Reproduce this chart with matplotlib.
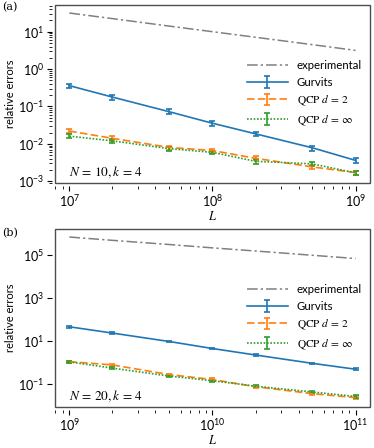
import numpy as np
import matplotlib
matplotlib.use('Agg')
import matplotlib.pyplot as plt

plt.rcParams['font.family'] = ['Lato', 'DejaVu Sans']
plt.rcParams['mathtext.fontset'] = 'stix'
plt.rcParams['font.size'] = 8

# panel (a): N=10, k=4
L_a = [1e7, 2e7, 5e7, 1e8, 2e8, 5e8, 1e9]
exp_a = [31.6, 22.4, 14.1, 10.0, 7.1, 4.5, 3.16]
gurv_a = [0.36, 0.178, 0.072, 0.0355, 0.0185, 0.0078, 0.0036]
gurv_a_err = [0.05, 0.025, 0.011, 0.005, 0.0026, 0.0012, 0.0006]
qcp2_a = [0.022, 0.014, 0.0080, 0.0066, 0.0041, 0.0024, 0.0017]
qcp2_a_err = [0.003, 0.002, 0.0010, 0.0008, 0.0005, 0.0003, 0.0002]
qcpi_a = [0.016, 0.012, 0.0074, 0.0059, 0.0034, 0.0029, 0.00167]
qcpi_a_err = [0.0018, 0.0015, 0.0009, 0.0007, 0.0005, 0.0004, 0.0002]

# panel (b): N=20, k=4
L_b = [1e9, 2e9, 5e9, 1e10, 2e10, 5e10, 1e11]
exp_b = [6.7e5, 4.7e5, 3.0e5, 2.1e5, 1.5e5, 9.5e4, 6.7e4]
gurv_b = [45.0, 23.0, 9.3, 4.4, 2.2, 0.9, 0.48]
gurv_b_err = [3.5, 1.6, 0.7, 0.3, 0.15, 0.07, 0.04]
qcp2_b = [1.08, 0.76, 0.27, 0.16, 0.074, 0.035, 0.023]
qcp2_b_err = [0.12, 0.08, 0.03, 0.02, 0.008, 0.004, 0.003]
qcpi_b = [1.05, 0.54, 0.23, 0.14, 0.078, 0.042, 0.026]
qcpi_b_err = [0.10, 0.05, 0.02, 0.015, 0.008, 0.004, 0.003]

panels = [
    ('(a)', r'$N\,=\,10, k\,=\,4$', L_a, exp_a, gurv_a, gurv_a_err, qcp2_a, qcp2_a_err, qcpi_a, qcpi_a_err),
    ('(b)', r'$N\,=\,20, k\,=\,4$', L_b, exp_b, gurv_b, gurv_b_err, qcp2_b, qcp2_b_err, qcpi_b, qcpi_b_err),
]

fig = plt.figure(figsize=(3.74, 4.48), dpi=100)
rects = [[0.147, 0.5915, 0.842, 0.3975], [0.147, 0.0915, 0.842, 0.3975]]
label_y = [0.978, 0.473]

for rect, ly, (tag, note, L, ex, g, ge, q2, q2e, qi, qie) in zip(rects, label_y, panels):
    ax = fig.add_axes(rect)
    ax.set_xscale('log')
    ax.set_yscale('log')
    ax.plot(L, ex, color='0.5', lw=1.1, ls=(0, (7, 2, 1.5, 2)), label='experimental')
    ax.errorbar(L, g, yerr=ge, color='C0', lw=1.2, capsize=2.5, capthick=1.2,
                elinewidth=1.2, label='Gurvits')
    ax.errorbar(L, q2, yerr=q2e, color='C1', lw=1.2, ls=(0, (4.5, 2)), capsize=2.5,
                capthick=1.2, elinewidth=1.2, label=r'$\mathrm{QCP}\ d\,=\,2$')
    ax.errorbar(L, qi, yerr=qie, color='C2', lw=1.2, ls=(0, (1, 1)), capsize=2.5,
                capthick=1.2, elinewidth=1.2, label=r'$\mathrm{QCP}\ d\,=\,\infty$')
    ax.set_xlim(L[0] / 1.26, L[-1] * 1.26)
    ax.set_xlabel(r'$L$', labelpad=0, fontsize=9)
    ax.set_ylabel('relative errors', labelpad=2)
    ax.text(0.045, 0.04, note, transform=ax.transAxes, fontsize=9.5)
    ax.legend(loc='center right', frameon=False, handlelength=3.6,
              fontsize=8.2, borderaxespad=0.3)
    for side in ['left', 'bottom']:
        ax.spines[side].set_position(('outward', 2))
        ax.spines[side].set_visible(False)
    for side in ['top', 'right']:
        ax.spines[side].set_visible(False)
    ax.patch.set_edgecolor('0.3')
    ax.patch.set_linewidth(1.0)
    ax.tick_params(labelsize=9, pad=2)
    fig.text(0.005, ly, tag, fontsize=8, family='serif')

fig.savefig('out.png', dpi=100)
